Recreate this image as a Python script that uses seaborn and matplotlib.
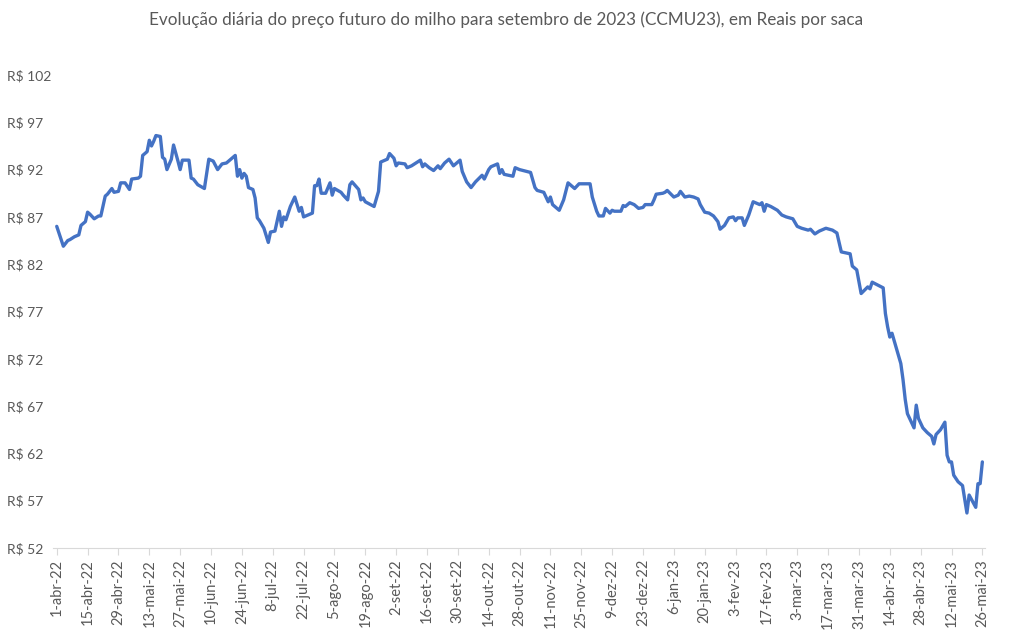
import pandas as pd
import seaborn as sns
import matplotlib.pyplot as plt

# dias corridos desde 1-abr-22 e preço (R$/saca)
inicio = '2022-04-01'
dias = [
    0, 3, 5, 6, 8, 10, 11, 13, 14, 15,
    17, 19, 20, 22, 23, 25, 26, 28, 29, 31,
    33, 34, 37, 38, 39, 41, 42, 43, 44, 45,
    47, 48, 49, 50, 52, 53, 55, 56, 57, 60,
    61, 62, 64, 67, 69, 71, 73, 75, 77, 81,
    82, 83, 84, 85, 86, 87, 89, 90, 91, 92,
    94, 96, 97, 99, 101, 102, 103, 104, 106, 108,
    110, 111, 112, 116, 117, 118, 119, 120, 122, 124,
    125, 126, 129, 130, 132, 133, 134, 137, 138, 139,
    140, 144, 146, 147, 150, 151, 153, 154, 155, 158,
    159, 161, 163, 165, 166, 167, 169, 171, 173, 174,
    176, 178, 180, 183, 184, 186, 188, 190, 193, 194,
    196, 197, 200, 201, 202, 203, 207, 208, 210, 215,
    217, 218, 221, 223, 224, 225, 228, 230, 232, 235,
    237, 242, 243, 245, 246, 248, 249, 251, 252, 253,
    256, 257, 258, 260, 262, 264, 266, 267, 270, 271,
    272, 275, 276, 277, 280, 282, 283, 285, 287, 289,
    291, 292, 294, 296, 298, 300, 301, 303, 305, 307,
    308, 309, 311, 312, 314, 316, 318, 319, 320, 321,
    322, 324, 327, 329, 331, 334, 336, 338, 341, 342,
    344, 346, 349, 352, 354, 356, 358, 360, 361, 363,
    365, 368, 369, 370, 375, 376, 377, 378, 379, 381,
    383, 384, 385, 386, 389, 390, 391, 393, 395, 397,
    398, 399, 401, 403, 404, 405, 406, 407, 409, 411,
    413, 414, 417, 418, 419, 420,
]
precos = [
    86.0, 83.9, 84.5, 84.6, 84.9, 85.1, 86.1, 86.5, 87.5, 87.3,
    86.8, 87.1, 87.1, 89.2, 89.4, 90.0, 89.6, 89.7, 90.6, 90.6,
    89.9, 91.0, 91.1, 91.3, 93.5, 93.9, 95.1, 94.5, 95.0, 95.6,
    95.5, 93.3, 93.1, 92.0, 93.1, 94.6, 92.9, 92.0, 93.0, 93.0,
    91.1, 91.0, 90.4, 90.0, 93.1, 92.9, 92.0, 92.6, 92.7, 93.5,
    91.3, 92.0, 91.1, 91.6, 91.3, 90.1, 89.9, 89.0, 86.9, 86.6,
    85.8, 84.3, 85.4, 85.5, 87.6, 86.0, 87.0, 86.7, 88.1, 89.1,
    87.6, 88.0, 87.0, 87.4, 90.3, 90.3, 91.0, 89.5, 89.5, 90.6,
    89.3, 90.0, 89.6, 89.3, 88.8, 90.4, 90.7, 89.9, 88.8, 89.0,
    88.6, 88.1, 89.7, 92.8, 93.1, 93.7, 93.2, 92.4, 92.7, 92.6,
    92.2, 92.4, 92.7, 93.0, 92.3, 92.6, 92.2, 91.9, 92.4, 92.1,
    92.7, 93.1, 92.4, 93.0, 91.8, 90.7, 90.1, 90.7, 91.4, 91.0,
    92.0, 92.3, 92.6, 91.6, 92.0, 91.5, 91.3, 92.2, 92.0, 91.7,
    90.1, 89.8, 89.6, 88.6, 89.1, 88.3, 87.7, 88.8, 90.6, 90.0,
    90.5, 90.5, 89.1, 87.6, 87.1, 87.1, 87.9, 87.4, 87.7, 87.6,
    87.6, 88.2, 88.1, 88.5, 88.3, 87.9, 88.0, 88.3, 88.3, 88.8,
    89.4, 89.5, 89.6, 89.8, 89.1, 89.3, 89.7, 89.1, 89.2, 89.1,
    88.9, 88.3, 87.5, 87.4, 87.1, 86.5, 85.7, 86.1, 86.9, 87.0,
    86.6, 86.9, 86.9, 86.1, 87.2, 88.6, 88.4, 88.3, 88.5, 87.6,
    88.3, 88.1, 87.7, 87.2, 87.0, 86.8, 86.0, 85.8, 85.6, 85.7,
    85.2, 85.5, 85.8, 85.6, 85.3, 83.3, 83.2, 83.1, 81.8, 81.4,
    78.9, 79.6, 79.4, 80.1, 79.5, 76.8, 75.4, 74.3, 74.7, 73.1,
    71.5, 69.8, 67.7, 66.2, 64.7, 67.1, 65.7, 64.7, 64.2, 63.8,
    63.0, 64.0, 64.5, 65.3, 61.8, 61.1, 61.1, 59.7, 59.0, 58.6,
    55.7, 57.6, 56.3, 58.8, 58.8, 61.1,
]

rotulos_x = [
    '1-abr-22', '15-abr-22', '29-abr-22', '13-mai-22', '27-mai-22', '10-jun-22',
    '24-jun-22', '8-jul-22', '22-jul-22', '5-ago-22', '19-ago-22', '2-set-22',
    '16-set-22', '30-set-22', '14-out-22', '28-out-22', '11-nov-22', '25-nov-22',
    '9-dez-22', '23-dez-22', '6-jan-23', '20-jan-23', '3-fev-23', '17-fev-23',
    '3-mar-23', '17-mar-23', '31-mar-23', '14-abr-23', '28-abr-23', '12-mai-23',
    '26-mai-23',
]
valores_y = [52, 57, 62, 67, 72, 77, 82, 87, 92, 97, 102]

titulo = ('Evolução diária do preço futuro do milho para setembro de 2023 '
          '(CCMU23), em Reais por saca')

df = pd.DataFrame({
    'data': pd.Timestamp(inicio) + pd.to_timedelta(dias, unit='D'),
    'preco': precos,
})

sns.set_theme(style='white')
plt.rcParams['font.family'] = ['Lato', 'DejaVu Sans']
cinza = '#595959'

fig = plt.figure(figsize=(10.13, 6.3), dpi=100)
ax = fig.add_axes([53 / 1013, 82 / 630, 932 / 1013, 473 / 630])

sns.lineplot(data=df, x='data', y='preco', color='#4472C4', linewidth=2.4, ax=ax)

t0 = pd.Timestamp(inicio)
ax.set_xlim(t0 - pd.Timedelta(days=1.7), t0 + pd.Timedelta(days=421.2))
ax.set_ylim(valores_y[0], valores_y[-1])

ticks_x = pd.date_range(inicio, periods=len(rotulos_x), freq='14D')
ax.set_xticks(ticks_x)
ax.set_xticklabels(rotulos_x, rotation=90, fontsize=10.5, color=cinza)
ax.set_yticks(valores_y)
ax.set_yticklabels([f'R$ {v}' for v in valores_y], fontsize=10, color=cinza, ha='left')

ax.tick_params(axis='x', length=5, width=0.8, color='#D9D9D9', pad=3, bottom=True)
ax.tick_params(axis='y', length=0, pad=33)

for lado in ['top', 'right', 'left']:
    ax.spines[lado].set_visible(False)
ax.spines['bottom'].set_color('#D9D9D9')
ax.spines['bottom'].set_linewidth(0.8)
ax.set_xlabel('')
ax.set_ylabel('')
ax.grid(False)

fig.text(0.5, 1 - 20 / 630, titulo, ha='center', va='center', fontsize=12.3, color=cinza)

fig.savefig('out.png', dpi=100, facecolor='white')
